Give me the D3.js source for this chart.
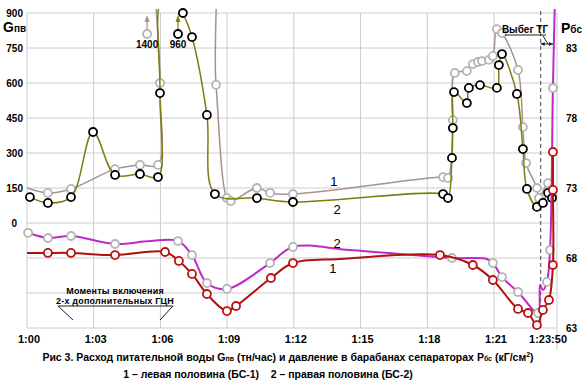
<!DOCTYPE html>
<html>
<head>
<meta charset="utf-8">
<script src="https://cdn.jsdelivr.net/npm/d3@7"></script>
<style>
body { margin: 0; background: #fff; }
text { font-family: "Liberation Sans", Arial, sans-serif; fill: #000; }
</style>
</head>
<body>
<div id="chart"></div>
<script>
// time axis: minutes after 1:00
var xTicks = [0, 3, 6, 9, 12, 15, 18, 21, 23 + 50 / 60]
var xTickLabels = ["1:00", "1:03", "1:06", "1:09", "1:12", "1:15", "1:18", "1:21", "1:23:50"]
var gTicks = [900, 750, 600, 450, 300, 150, 0, -150, -300, -450]
var pTicks = [83, 78, 73, 68, 63]

// feed water flow Gпв, t/h   [minute, value, marker]
var g1 = [[0, 150, 0], [0.94, 129, 1], [1.98, 146, 1], [3.96, 231, 1], [5.08, 249, 1], [5.89, 249, 1],
    [5.98, 600, 1], [6.12, 1400, 0], [8.0, 1400, 0], [8.5, 592, 1], [8.99, 107, 1], [9.17, 94, 1],
    [10.34, 150, 1], [10.93, 129, 1], [11.96, 124, 1], [18.71, 197, 1], [18.93, 193, 1], [19.15, 441, 1],
    [19.24, 643, 1], [19.78, 651, 1], [20.05, 681, 1], [20.28, 690, 1], [20.46, 694, 1], [20.77, 699, 1],
    [20.95, 716, 1], [21.13, 831, 1], [21.36, 814, 1], [22.08, 656, 1], [22.30, 411, 1], [22.44, 257, 1],
    [22.93, 150, 1], [23.02, 107, 1], [23.43, 171, 1], [23.61, 120, 1]]
var g2 = [[0.13, 111, 1], [0.94, 86, 1], [1.98, 111, 1], [2.97, 390, 1], [3.96, 206, 1], [5.08, 210, 1],
    [5.89, 197, 1], [5.98, 557, 1], [6.07, 960, 0], [6.7, 960, 0], [7.01, 900, 1], [7.42, 797, 1],
    [8.09, 463, 1], [8.45, 124, 1], [10.34, 107, 1], [11.96, 90, 1], [18.71, 124, 1], [18.93, 107, 1],
    [19.11, 279, 1], [19.15, 407, 1], [19.2, 561, 1], [19.78, 514, 1], [19.87, 579, 1], [20.37, 591, 1],
    [21.13, 579, 1], [21.22, 677, 1], [21.36, 724, 1], [22.03, 553, 1], [22.3, 317, 1], [22.48, 146, 1],
    [22.93, 69, 1], [23.2, 86, 1], [23.43, 129, 1], [23.61, 107, 1]]

// separator drum pressure Pбс, kgf/cm2   [minute, value, marker]
var p1 = [[0, 68.36, 0], [0.94, 68.36, 1], [1.98, 68.36, 1], [3.96, 68.21, 1], [6.21, 68.43, 1],
    [6.83, 67.79, 1], [7.42, 66.86, 1], [8.09, 65.43, 1], [8.99, 64.21, 1], [9.4, 64.57, 1],
    [10.97, 66.57, 1], [11.96, 67.64, 1], [14.07, 67.93, 0], [18.57, 68.21, 1], [20.05, 67.5, 1],
    [20.95, 66.43, 1], [22.08, 64.36, 1], [22.53, 64.07, 1], [22.93, 63.21, 1], [23.2, 64.29, 1],
    [23.47, 65.0, 1], [23.65, 67.5, 1], [23.65, 72.86, 1], [23.65, 75.57, 1]]
var p2 = [[0.05, 69.8, 1], [0.94, 69.43, 1], [1.98, 69.57, 1], [3.96, 69.0, 1], [5.53, 69.21, 0],
    [6.79, 69.21, 1], [7.42, 68.21, 1], [8.09, 66.21, 1], [8.99, 65.79, 1], [10.93, 67.64, 1],
    [11.96, 68.79, 1], [14.52, 68.57, 0], [19.11, 68.0, 1], [20.68, 67.93, 0], [20.95, 67.64, 1],
    [21.36, 66.64, 1], [22.08, 65.57, 1], [22.98, 64.07, 1], [23.07, 66.07, 0], [23.2, 65.71, 0],
    [23.38, 66.29, 1], [23.52, 68.57, 1], [23.65, 80.14, 1], [23.74, 86.5, 0]]

var tTurbine = 23.1        // выбег ТГ
var pumpMoments = [2.07, 5.98]   // включение ГЦН

var width = 588
height = 392

var svg = d3.select("#chart")
    .append("svg")
    .attr("width", width)
    .attr("height", height)

var x = d3.scaleLinear().domain([0, 23 + 50 / 60]).range([27, 557])
var yG = d3.scaleLinear().domain([-450, 900]).range([328, 13])
var yP = d3.scaleLinear().domain([63, 83]).range([328, 48])

// grid
svg.append("g").selectAll("line").data(gTicks).enter().append("line")
    .attr("x1", x(0)).attr("x2", x(xTicks[xTicks.length - 1]))
    .attr("y1", function(d) { return yG(d) }).attr("y2", function(d) { return yG(d) })
    .attr("stroke", "#cccccc")
svg.append("g").selectAll("line").data(xTicks).enter().append("line")
    .attr("x1", function(d) { return x(d) }).attr("x2", function(d) { return x(d) })
    .attr("y1", yG(900)).attr("y2", function(d, i) { return i == xTicks.length - 1 ? 350 : yG(-450) })
    .attr("stroke", "#cccccc")

// axis labels
svg.append("g").selectAll("text").data(gTicks.filter(function(d) { return d >= 0 })).enter().append("text")
    .attr("x", function(d) { return d == 0 ? 17 : 23 })
    .attr("y", function(d) { return yG(d) + 4 })
    .attr("text-anchor", "end").style("font-size", "10px").style("font-weight", "bold")
    .text(function(d) { return d })
svg.append("g").selectAll("text").data(pTicks).enter().append("text")
    .attr("x", 566).attr("y", function(d) { return yP(d) + 4 })
    .style("font-size", "10px").style("font-weight", "bold")
    .text(function(d) { return d })
svg.append("g").selectAll("text").data(xTicks).enter().append("text")
    .attr("x", function(d, i) { return i == xTicks.length - 1 ? x(d) + 10 : x(d) + 2 })
    .attr("y", 343)
    .attr("text-anchor", function(d, i) { return i == xTicks.length - 1 ? "end" : "middle" })
    .style("font-size", "11px").style("font-weight", "bold")
    .text(function(d, i) { return xTickLabels[i] })

var gt = svg.append("text").attr("x", 3).attr("y", 32).style("font-weight", "bold").style("font-size", "14px")
gt.append("tspan").text("G")
gt.append("tspan").style("font-size", "10px").text("пв")
var pt = svg.append("text").attr("x", 561).attr("y", 33).style("font-weight", "bold").style("font-size", "14px")
pt.append("tspan").text("P")
pt.append("tspan").style("font-size", "10px").text("бс")

// turbine run-down line
svg.append("line")
    .attr("x1", x(tTurbine)).attr("x2", x(tTurbine))
    .attr("y1", 11).attr("y2", yG(-450))
    .attr("stroke", "#444").attr("stroke-dasharray", "4,3")

// series
svg.append("clipPath").attr("id", "clip").append("rect")
    .attr("x", x(0)).attr("y", 9).attr("width", 533).attr("height", 322)

var series = [
    { data: g1, y: yG, color: "#a89090", width: 1.5, mark: "#b4b4b4" },
    { data: g2, y: yG, color: "#7c7c10", width: 1.5, mark: "#000000" },
    { data: p2, y: yP, color: "#c028c8", width: 2, mark: "#b4b4b4" },
    { data: p1, y: yP, color: "#b01010", width: 2, mark: "#c01010" }
]

series.forEach(function(s) {
    var line = d3.line()
        .x(function(d) { return x(d[0]) })
        .y(function(d) { return s.y(d[1]) })
        .curve(d3.curveCatmullRom.alpha(0.5))
    svg.append("path")
        .attr("d", line(s.data))
        .attr("clip-path", "url(#clip)")
        .attr("fill", "none")
        .attr("stroke", s.color)
        .attr("stroke-width", s.width)
    svg.append("g").selectAll("circle")
        .data(s.data.filter(function(d) { return d[2] == 1 }))
        .enter().append("circle")
        .attr("cx", function(d) { return x(d[0]) })
        .attr("cy", function(d) { return s.y(d[1]) })
        .attr("r", 4)
        .attr("fill", "#fff")
        .attr("stroke", s.mark)
        .attr("stroke-width", 1.8)
})

// off-scale peaks
var peaks = [{ t: 5.4, label: "1400", color: "#a89090", mark: "#b4b4b4" },
    { t: 6.79, label: "960", color: "#7c7c10", mark: "#000000" }]
peaks.forEach(function(p) {
    var cx = x(p.t)
    svg.append("line").attr("x1", cx).attr("x2", cx).attr("y1", yG(810) - 4).attr("y2", yG(880))
        .attr("stroke", p.color).attr("stroke-width", 1.2)
    svg.append("path").attr("d", "M" + cx + "," + (yG(900) + 2) + "l-2.5,7h5z").attr("fill", p.color)
    svg.append("circle").attr("cx", cx).attr("cy", yG(810)).attr("r", 4)
        .attr("fill", "#fff").attr("stroke", p.mark).attr("stroke-width", 1.8)
    svg.append("text").attr("x", cx).attr("y", yG(751)).attr("text-anchor", "middle")
        .style("font-size", "10px").style("font-weight", "bold").text(p.label)
})

// series numbers
var nums = [{ t: 13.8, y: yG(160), n: "1" }, { t: 13.94, y: yG(39), n: "2" },
    { t: 13.94, y: yP(68.71), n: "2" }, { t: 13.76, y: yP(66.93), n: "1" }]
svg.append("g").selectAll("text").data(nums).enter().append("text")
    .attr("x", function(d) { return x(d.t) }).attr("y", function(d) { return d.y })
    .attr("text-anchor", "middle").style("font-size", "13px")
    .text(function(d) { return d.n })

// ГЦН note
svg.append("text").attr("x", x(3.96)).attr("y", 294).attr("text-anchor", "middle")
    .style("font-size", "9px").style("font-weight", "bold").style("letter-spacing", "0.2px").text("Моменты включения")
svg.append("text").attr("x", x(3.96)).attr("y", 304).attr("text-anchor", "middle")
    .style("font-size", "9px").style("font-weight", "bold").style("letter-spacing", "0.2px").text("2-х дополнительных ГЦН")
svg.append("line").attr("x1", 58).attr("x2", 173).attr("y1", 306).attr("y2", 306).attr("stroke", "#222")
svg.append("line").attr("x1", 58).attr("y1", 306).attr("x2", x(pumpMoments[0])).attr("y2", 320).attr("stroke", "#222")
svg.append("line").attr("x1", 173).attr("y1", 306).attr("x2", x(pumpMoments[1])).attr("y2", 320).attr("stroke", "#222")

// Выбег ТГ note
svg.append("text").attr("x", 525).attr("y", 33).attr("text-anchor", "middle")
    .style("font-size", "10px").style("font-weight", "bold").text("Выбег ТГ")
svg.append("line").attr("x1", 505).attr("x2", 546).attr("y1", 35).attr("y2", 35).attr("stroke", "#222")
svg.append("line").attr("x1", 543).attr("y1", 36).attr("x2", 548).attr("y2", 44).attr("stroke", "#222")
svg.append("line").attr("x1", x(tTurbine)).attr("x2", x(23.65)).attr("y1", 44).attr("y2", 44).attr("stroke", "#222")
svg.append("path").attr("d", "M" + x(tTurbine) + ",44l4,-2v4z").attr("fill", "#222")
svg.append("path").attr("d", "M" + x(23.65) + ",44l-4,-2v4z").attr("fill", "#222")

// caption
var c1 = svg.append("text").attr("x", 288).attr("y", 361).attr("text-anchor", "middle")
    .style("font-size", "10.5px").style("font-weight", "bold")
c1.append("tspan").text("Рис 3. Расход питательной воды G")
c1.append("tspan").style("font-size", "7px").text("пв")
c1.append("tspan").text(" (тн/час) и давление в барабанах сепараторах P")
c1.append("tspan").style("font-size", "7px").text("бс")
c1.append("tspan").text(" (кГ/см")
c1.append("tspan").style("font-size", "7px").attr("dy", -4).text("2")
c1.append("tspan").attr("dy", 4).text(")")
svg.append("text").attr("x", 268).attr("y", 378).attr("text-anchor", "middle")
    .style("font-size", "10.5px").style("font-weight", "bold")
    .attr("xml:space", "preserve")
    .text("1 – левая половина (БС-1)    2 – правая половина (БС-2)")
</script>
</body>
</html>
